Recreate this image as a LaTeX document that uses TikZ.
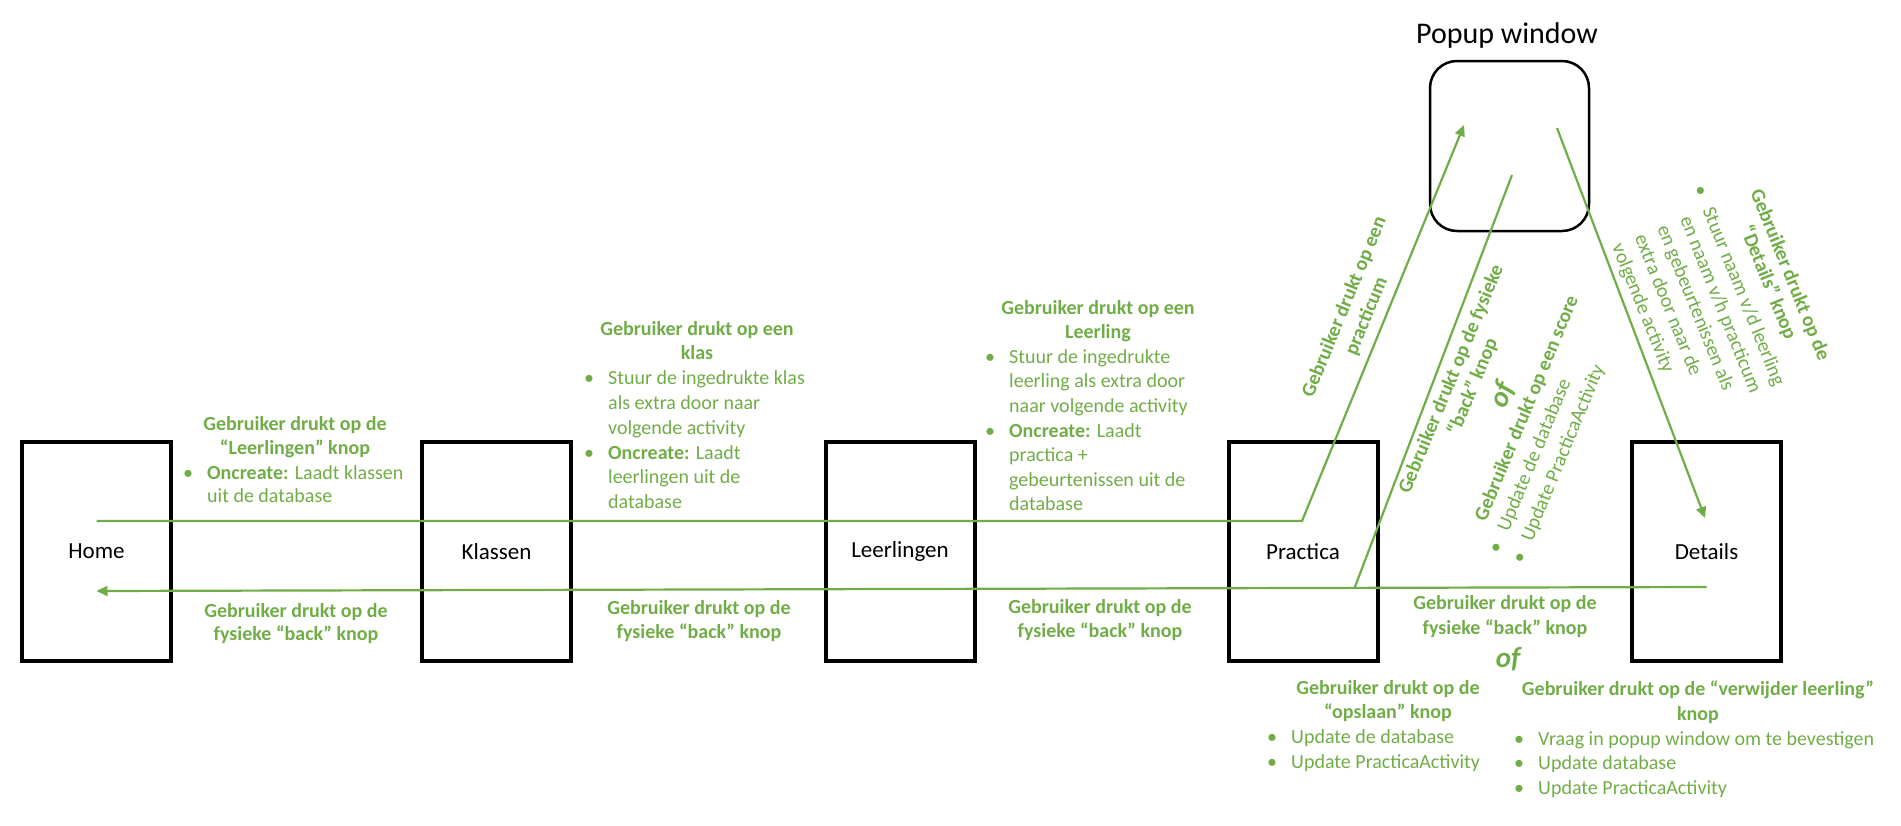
\documentclass[tikz,border=0pt]{standalone}
\usepackage{fontspec}
\setmainfont{Carlito}
\usetikzlibrary{arrows.meta,calc}
\definecolor{grn}{HTML}{70AD47}
\newcommand\bul{\makebox[24pt][l]{\textbullet}}
\begin{document}
\begin{tikzpicture}[x=1pt,y=-1pt,
  box/.style={draw=black,line width=4pt,minimum width=149pt,minimum height=219pt,inner sep=0pt,font=\fontsize{23}{28}\selectfont},
  conn/.style={draw=grn,line width=2.2pt},
  tip/.style={-{Triangle[length=11pt,width=10pt]}},
  lbl/.style={text=grn,inner sep=0pt,font=\fontsize{20}{24}\selectfont},
  ttl/.style={lbl,font=\fontsize{20}{24}\selectfont\bfseries,anchor=base},
  itm/.style={lbl,anchor=base west},
  oflbl/.style={lbl,font=\fontsize{29}{34}\selectfont\bfseries\itshape,anchor=base},
]
\useasboundingbox (0,0) rectangle (1901,825);

% boxes
\node[box] (home) at (96.5,551.5) {Home};
\node[box] (klassen) at (496.5,551.5) {Klassen};
\node[box] (leerlingen) at (900,551.5) {Leerlingen};
\node[box] (practica) at (1303,551.5) {Practica};
\node[box] (details) at (1706.5,551.5) {Details};
\node[draw=black,line width=2.5pt,rounded corners=27pt,minimum width=159pt,minimum height=170pt,inner sep=0pt] (popup) at (1509.5,146) {};
\node[font=\fontsize{30}{36}\selectfont,anchor=base,inner sep=0pt] (popuptitle) at (1507,43) {Popup window};

% connectors
\coordinate (fwdA) at ($(home.center)+(0,-30.5)$);
\coordinate (fwdB) at ($(practica.center)+(-1,-30.5)$);
\coordinate (popIn) at ($(popup.center)+(-45.5,-21)$);
\draw[conn,tip] (fwdA) -- (fwdB) -- (popIn);

\coordinate (backA) at ($(details.center)+(0,35.5)$);
\coordinate (backB) at ($(home.center)+(0,39.5)$);
\draw[conn,tip] (backA) -- (backB);

\coordinate (popOut) at ($(popup.center)+(2.5,29)$);
\coordinate (join) at ($(backA)!0.2186!(backB)$);
\draw[conn] (popOut) -- (join);

\coordinate (popDet) at ($(popup.center)+(47.5,-18)$);
\coordinate (detIn) at ($(details.center)+(-1.5,-33.5)$);
\draw[conn,tip] (popDet) -- (detIn);

% block A
\node[ttl] (a1) at (295,430) {Gebruiker drukt op de};
\node[ttl] (a2) at (295,454) {“Leerlingen” knop};
\node[itm] (a3) at (183,479) {\bul\textbf{Oncreate:} Laadt klassen};
\node[itm] (a4) at (207,502) {uit de database};

% block B
\node[ttl] (b1) at (697,335) {Gebruiker drukt op een};
\node[ttl] (b2) at (697,359) {klas};
\node[itm] (b3) at (584,384) {\bul Stuur de ingedrukte klas};
\node[itm] (b4) at (608,409) {als extra door naar};
\node[itm] (b5) at (608,434) {volgende activity};
\node[itm] (b6) at (584,459) {\bul\textbf{Oncreate:} Laadt};
\node[itm] (b7) at (608,483) {leerlingen uit de};
\node[itm] (b8) at (608,508) {database};

% block C
\node[ttl] (c1) at (1098,314) {Gebruiker drukt op een};
\node[ttl] (c2) at (1098,338) {Leerling};
\node[itm] (c3) at (985,363) {\bul Stuur de ingedrukte};
\node[itm] (c4) at (1009,387) {leerling als extra door};
\node[itm] (c5) at (1009,412) {naar volgende activity};
\node[itm] (c6) at (985,437) {\bul\textbf{Oncreate:} Laadt};
\node[itm] (c7) at (1009,461) {practica +};
\node[itm] (c8) at (1009,486) {gebeurtenissen uit de};
\node[itm] (c9) at (1009,510) {database};

% back labels
\node[ttl] (d1) at (296,617) {Gebruiker drukt op de};
\node[ttl] (d2) at (296,640) {fysieke “back” knop};
\node[ttl] (e1) at (699,614) {Gebruiker drukt op de};
\node[ttl] (e2) at (699,638) {fysieke “back” knop};
\node[ttl] (f1) at (1100,613) {Gebruiker drukt op de};
\node[ttl] (f2) at (1100,637) {fysieke “back” knop};
\node[ttl] (g1) at (1505,609) {Gebruiker drukt op de};
\node[ttl] (g2) at (1505,634) {fysieke “back” knop};
\node[oflbl] (g3) at (1508,667) {of};

% bottom left
\node[ttl] (h1) at (1388,694) {Gebruiker drukt op de};
\node[ttl] (h2) at (1388,718) {“opslaan” knop};
\node[itm] (h3) at (1267,743) {\bul Update de database};
\node[itm] (h4) at (1267,768) {\bul Update PracticaActivity};

% bottom right
\node[ttl] (i1) at (1698,695) {Gebruiker drukt op de “verwijder leerling”};
\node[ttl] (i2) at (1698,720) {knop};
\node[itm] (i3) at (1514,745) {\bul Vraag in popup window om te bevestigen};
\node[itm] (i4) at (1514,769) {\bul Update database};
\node[itm] (i5) at (1514,794) {\bul Update PracticaActivity};

% rotated block 1
\begin{scope}[shift={(1344,307)},rotate=67.7,transform shape]
\node[ttl] (r1a) at (0,6) {Gebruiker drukt op een};
\node[ttl] (r1b) at (0,30) {practicum};
\end{scope}

% rotated block 2
\begin{scope}[shift={(1451,379)},rotate=67.5,transform shape]
\node[ttl] (r2a) at (0,6) {Gebruiker drukt op de fysieke};
\node[ttl] (r2b) at (1,29) {“back” knop};
\node[oflbl] (r2c) at (5,62) {of};
\node[ttl] (r2d) at (2,87) {Gebruiker drukt op een score};
\node[itm] (r2e) at (-144,112) {\bul Update de database};
\node[itm] (r2f) at (-144,137.6) {\bul Update PracticaActivity};
\end{scope}

% rotated block 3
\begin{scope}[shift={(1790,275)},rotate=-68,transform shape]
\node[ttl] (r3a) at (0,6) {Gebruiker drukt op de};
\node[ttl] (r3b) at (-1,29) {“Details” knop};
\node[itm] (r3c) at (-117,57) {\bul Stuur naam v/d leerling};
\node[itm] (r3d) at (-93,81.4) {en naam v/h practicum};
\node[itm] (r3e) at (-93,105.8) {en gebeurtenissen als};
\node[itm] (r3f) at (-93,130.2) {extra door naar de};
\node[itm] (r3g) at (-93,154.6) {volgende activity};
\end{scope}
\end{tikzpicture}
\end{document}
